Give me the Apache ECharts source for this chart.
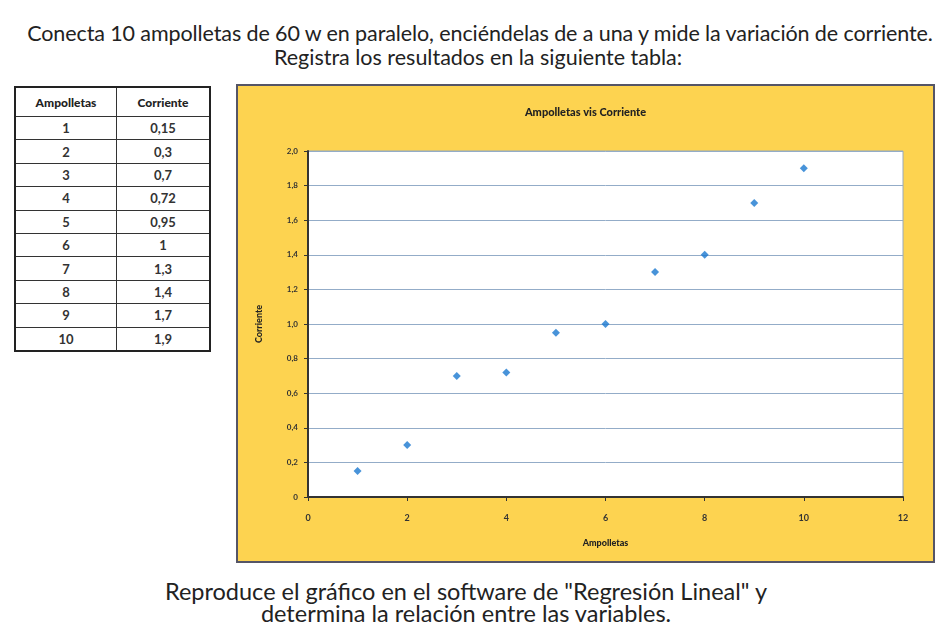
<!DOCTYPE html>
<html><head><meta charset="utf-8">
<script src="https://cdn.jsdelivr.net/npm/echarts@6/dist/echarts.min.js"></script>
<style>
body{margin:0;width:940px;height:627px;background:#fff;position:relative;font-family:Lato,"Open Sans",sans-serif;color:#222;overflow:hidden}
.t{position:absolute;text-align:center;white-space:nowrap;transform:translateX(-50%)}
#tbl{position:absolute;left:14px;top:86px;border-collapse:collapse;border:2px solid #222;font-size:13px;font-weight:bold;color:#333}
#tbl td,#tbl th{border:1px solid #333;height:22.4px;padding:0;text-align:center}
#tbl th{height:28px;font-size:12px;font-weight:900;color:#222}
#chart{position:absolute;left:236px;top:84px;width:699px;height:479px}
</style></head><body>
<div class="t" style="left:480px;top:20px;font-size:21.5px;letter-spacing:-0.1px">Conecta 10 ampolletas de 60 w en paralelo, enciéndelas de a una y mide la variación de corriente.</div>
<div class="t" style="left:478px;top:44px;font-size:21.5px">Registra los resultados en la siguiente tabla:</div>
<table id="tbl"></table>
<div id="chart"></div>
<div class="t" style="left:466px;top:579px;font-size:23.5px;line-height:24px">Reproduce el gráfico en el software de "Regresión Lineal" y</div>
<div class="t" style="left:466px;top:601px;font-size:23.5px;line-height:24px">determina la relación entre las variables.</div>
<script>
const headers = ["Ampolletas", "Corriente"];
const ampolletas = [1,2,3,4,5,6,7,8,9,10];
const corrienteText = ["0,15","0,3","0,7","0,72","0,95","1","1,3","1,4","1,7","1,9"];
const corriente = [0.15,0.3,0.7,0.72,0.95,1,1.3,1.4,1.7,1.9];
const chartTitle = "Ampolletas vis Corriente";

const tbl = document.getElementById('tbl');
let html = '<tr><th style="width:100px">'+headers[0]+'</th><th style="width:92px">'+headers[1]+'</th></tr>';
ampolletas.forEach((a,i)=>{ html += '<tr><td>'+a+'</td><td>'+corrienteText[i]+'</td></tr>'; });
tbl.innerHTML = html;

const chart = echarts.init(document.getElementById('chart'));
const fmt = v => v===0 ? '0' : v.toFixed(1).replace('.', ',');
chart.setOption({
  backgroundColor: '#FDD350',
  animation: false,
  title: {text: chartTitle, left: 'center', top: 18, textStyle:{fontSize:11, fontWeight:900, color:'#222', fontFamily:'Lato'}},
  graphic: [{type:'rect', shape:{x:1,y:1,width:697,height:477}, style:{fill:'none', stroke:'#556', lineWidth:2}, silent:true}],
  grid: {left:72, right:32, top:67, bottom:66, show:true, backgroundColor:'#fff', borderColor:'#9ab', borderWidth:1},
  xAxis: {type:'value', min:0, max:12, interval:2, name:'Ampolletas', nameLocation:'middle', nameGap:42,
    nameTextStyle:{fontSize:9, fontWeight:900, color:'#222', fontFamily:'Lato'},
    axisLine:{show:true, lineStyle:{color:'#333', width:2}}, axisTick:{show:true, length:4, lineStyle:{color:'#333'}},
    axisLabel:{fontSize:9, fontWeight:'bold', color:'#333', margin:17, fontFamily:'Lato'}, splitLine:{show:false}},
  yAxis: {type:'value', min:0, max:2, interval:0.2, name:'Corriente', nameLocation:'middle', nameGap:44,
    nameTextStyle:{fontSize:9, fontWeight:900, color:'#222', fontFamily:'Lato'},
    axisLine:{show:true, lineStyle:{color:'#333', width:2}}, axisTick:{show:true, length:4, lineStyle:{color:'#333'}},
    axisLabel:{fontSize:8, fontWeight:'bold', color:'#333', margin:10, formatter: fmt, fontFamily:'Lato'},
    splitLine:{show:true, lineStyle:{color:'#93acc8', width:1}}},
  series: [{type:'scatter', symbol:'diamond', symbolSize:8, itemStyle:{color:'#1a78d0'},
    data: ampolletas.map((a,i)=>[a, corriente[i]])}]
});
</script>
</body></html>
